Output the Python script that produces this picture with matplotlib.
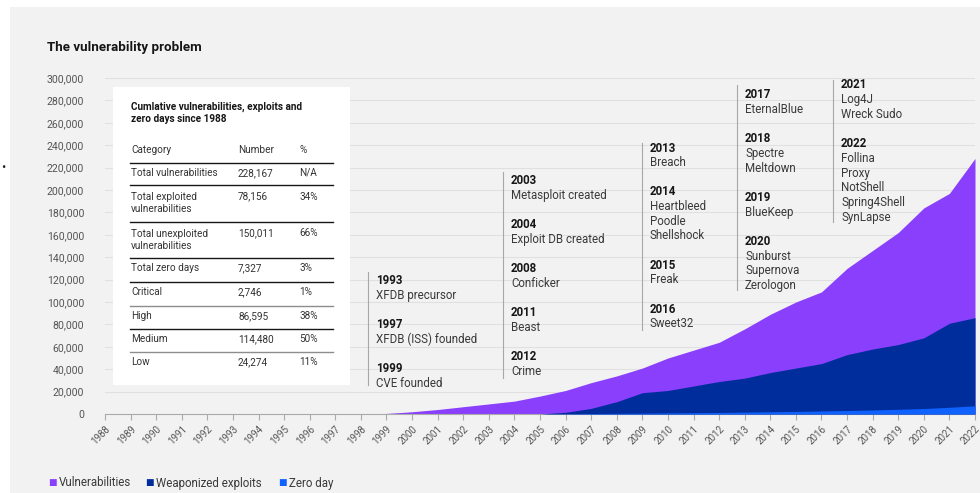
import numpy as np
import matplotlib.pyplot as plt
from matplotlib.patches import Rectangle

plt.rcParams['font.family'] = ['Roboto', 'DejaVu Sans']

years = np.arange(1988, 2023)
vulns = [0, 0, 0, 0, 0, 0, 0, 0, 0, 0, 0, 500, 2000, 4000, 6500, 9000, 11500,
         16000, 21000, 28000, 34000, 41000, 50000, 57000, 64000, 76000, 89000,
         100000, 109000, 130000, 146000, 162000, 184000, 197000, 228167]
exploits = [0, 0, 0, 0, 0, 0, 0, 0, 0, 0, 0, 0, 0, 0, 0, 0, 0,
            0, 1500, 5000, 11000, 19000, 21000, 25000, 29000, 32000, 37000,
            41000, 45000, 53000, 58000, 62000, 68000, 81000, 86000]
zero_days = [0, 0, 0, 0, 0, 0, 0, 0, 0, 0, 0, 0, 0, 0, 0, 0, 0,
             0, 200, 400, 600, 800, 1000, 1200, 1400, 1700, 2000,
             2300, 2700, 3100, 3600, 4200, 4900, 6000, 7327]

table_title = "Cumlative vulnerabilities, exploits and\nzero days since 1988"
tab_cat = ["Total vulnerabilities", "Total exploited\nvulnerabilities",
           "Total unexploited\nvulnerabilities", "Total zero days",
           "Critical", "High", "Medium", "Low"]
tab_num = ["228,167", "78,156", "150,011", "7,327", "2,746", "86,595", "114,480", "24,274"]
tab_pct = ["N/A", "34%", "66%", "3%", "1%", "38%", "50%", "11%"]

events = [
    [("1993", ["XFDB precursor"]), ("1997", ["XFDB (ISS) founded"]), ("1999", ["CVE founded"])],
    [("2003", ["Metasploit created"]), ("2004", ["Exploit DB created"]), ("2008", ["Conficker"]),
     ("2011", ["Beast"]), ("2012", ["Crime"])],
    [("2013", ["Breach"]), ("2014", ["Heartbleed", "Poodle", "Shellshock"]), ("2015", ["Freak"]),
     ("2016", ["Sweet32"])],
    [("2017", ["EternalBlue"]), ("2018", ["Spectre", "Meltdown"]), ("2019", ["BlueKeep"]),
     ("2020", ["Sunburst", "Supernova", "Zerologon"])],
    [("2021", ["Log4J", "Wreck Sudo"]), ("2022", ["Follina", "Proxy", "NotShell", "Spring4Shell", "SynLapse"])],
]

W, H = 980, 493
fig = plt.figure(figsize=(W / 100, H / 100), dpi=100)
fig.patch.set_facecolor('white')
bg = '#f2f2f2'
fig.patches.append(Rectangle((10 / W, 0), 1, 1 - 7 / H, transform=fig.transFigure,
                             facecolor=bg, edgecolor='none', zorder=-5))
fig.text(3 / W, 1 - 168 / H, "\u2022", fontsize=9, color='#222222', ha='center', va='center')

def px(x, y):
    return x / W, 1 - y / H

ax = fig.add_axes([105 / W, 1 - 414 / H, 870 / W, (414 - 78) / H])
ax.set_facecolor(bg)
ax.fill_between(years, vulns, color='#8a3ffc', lw=0, zorder=2)
ax.fill_between(years, exploits, color='#002d9c', lw=0, zorder=3)
ax.fill_between(years, zero_days, color='#0f62fe', lw=0, zorder=4)
ax.set_xlim(1988, 2022)
ax.set_ylim(0, 300000)
ax.set_yticks(np.arange(0, 300001, 20000))
ax.set_yticklabels([f"{v:,}" for v in range(0, 300001, 20000)], fontsize=7.6, color='#555555')
ax.set_xticks(years)
ax.set_xticklabels([str(y) for y in years], rotation=45, fontsize=7, color='#555555',
                   ha='right', rotation_mode='anchor')
ax.tick_params(axis='y', length=0, pad=15)
ax.tick_params(axis='x', length=4, color='#aaaaaa', pad=3)
ax.grid(axis='y', color='#e0e0e0', lw=0.8, zorder=0)
for s in ['top', 'right', 'left']:
    ax.spines[s].set_visible(False)
ax.spines['bottom'].set_color('#aaaaaa')
ax.spines['bottom'].set_linewidth(0.8)
ax.set_axisbelow(True)

fig.text(*px(47, 47), "The vulnerability problem", fontsize=9.6, fontweight='bold',
         color='#161616', va='center')

# table inset
fig.patches.append(Rectangle(px(113, 385), 237 / W, 298 / H, transform=fig.transFigure,
                             facecolor='white', edgecolor='none', zorder=5))
fs_t = 7.2
fig.text(*px(131, 102), table_title, fontsize=fs_t, fontweight='bold', color='#161616',
         va='top', linespacing=1.25, zorder=6)
fig.text(*px(131, 150), "Category", fontsize=fs_t, color='#333333', va='center', zorder=6)
fig.text(*px(238, 150), "Number", fontsize=fs_t, color='#333333', va='center', zorder=6)
fig.text(*px(299, 150), "%", fontsize=fs_t, color='#333333', va='center', zorder=6)
row_y = [173, 203, 240, 268, 292, 316, 339, 362]
line_y = [163, 185, 222, 258, 282, 306, 329, 352]
line_c = ['#161616'] * 5 + ['#8d8d8d', '#161616', '#8d8d8d']
for i in range(len(tab_cat)):
    yy = row_y[i]
    ytop = yy - 6.5 if '\n' in tab_cat[i] else yy
    fig.text(*px(131, yy), tab_cat[i], fontsize=fs_t, color='#333333', va='center',
             linespacing=1.25, zorder=6)
    fig.text(*px(238, ytop), tab_num[i], fontsize=fs_t, color='#333333', va='center', zorder=6)
    fig.text(*px(299, ytop), tab_pct[i], fontsize=fs_t, color='#333333', va='center', zorder=6)
for yl, c in zip(line_y, line_c):
    fig.add_artist(plt.Line2D([130 / W, 333 / W], [1 - yl / H] * 2, color=c, lw=1.0, zorder=6))

# event annotations
groups = [(368, 272, 385, 281), (503, 172, 378, 181), (642, 143, 330, 148),
          (737, 85, 290, 95), (833, 80, 222, 85)]
step = 14.7
gap = 14.5
fs_e = 8.3
for (gx, gy0, gy1, ty), evs in zip(groups, events):
    fig.add_artist(plt.Line2D([gx / W] * 2, [1 - gy0 / H, 1 - gy1 / H], color='#a8a8a8', lw=0.8))
    y = ty
    for yr, names in evs:
        fig.text(*px(gx + 8, y), yr, fontsize=fs_e, fontweight='bold', color='#161616', va='center')
        for n in names:
            y += step
            fig.text(*px(gx + 8, y), n, fontsize=fs_e, color='#393939', va='center')
        y += step + gap

# legend
leg = [("Vulnerabilities", '#8a3ffc'), ("Weaponized exploits", '#002d9c'), ("Zero day", '#0f62fe')]
lx = [48, 145, 278]
for (lab, c), x in zip(leg, lx):
    fig.text(*px(x, 483), "\u25a0", fontsize=6.5, color=c, va='center')
    fig.text(*px(x + 11, 483), lab, fontsize=8.3, color='#393939', va='center')

fig.savefig("out.png", dpi=100)
